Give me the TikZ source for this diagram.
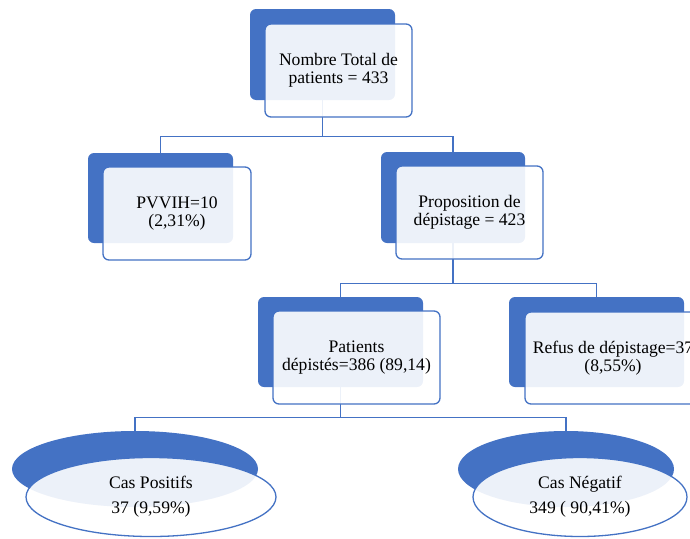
\documentclass[tikz,border=0pt]{standalone}
\usepackage{fontspec}
\setmainfont{Liberation Serif}
\usetikzlibrary{shapes.geometric}
\definecolor{bl}{HTML}{4472C4}
\begin{document}
\begin{tikzpicture}[x=1pt,y=-1pt,
  conn/.style={draw=bl, line width=1.2pt},
  backbox/.style={rectangle, fill=bl, rounded corners=6pt, inner sep=0pt},
  frontbox/.style={rectangle, draw=bl, line width=1.3pt, fill=white, fill opacity=0.9, text opacity=1,
    rounded corners=6pt, inner sep=0pt, align=center, font=\fontsize{17.6}{17.7}\selectfont},
  backell/.style={ellipse, fill=bl, inner sep=0pt},
  frontell/.style={ellipse, draw=bl, line width=1.3pt, fill=white, fill opacity=0.9, text opacity=1,
    inner sep=0pt, align=center, font=\fontsize{17.6}{25}\selectfont}]
\useasboundingbox (0,0) rectangle (690,538);
\clip (0,0) rectangle (690,538);
% back shapes
\node[backbox, minimum width=145pt, minimum height=91pt] (topB) at (322.5,54.5) {};
\node[backbox, minimum width=145pt, minimum height=90pt] (pvB) at (160.5,198) {};
\node[backbox, minimum width=144pt, minimum height=91pt] (propB) at (453,197.5) {};
\node[backbox, minimum width=165pt, minimum height=90pt] (patB) at (340.5,342) {};
\node[backbox, minimum width=175pt, minimum height=90pt] (refB) at (596.5,342) {};
\node[backell, minimum width=246pt, minimum height=76pt] (posB) at (135,469) {};
\node[backell, minimum width=216pt, minimum height=76pt] (negB) at (566,469) {};
% connectors
\draw[conn] (topB.south) -- ++(0,36) -| (pvB.north);
\draw[conn] (topB.south) -- ++(0,36) -| (propB.north);
\draw[conn] (propB.south) -- ++(0,40) -| (patB.north);
\draw[conn] (propB.south) -- ++(0,40) -| (refB.north);
\draw[conn] (patB.south) -- ++(0,30) -| (posB.north);
\draw[conn] (patB.south) -- ++(0,30) -| (negB.north);
% front shapes
\node[frontbox, minimum width=147pt, minimum height=93pt] (topF) at (338.5,70.5) {Nombre Total de\\patients = 433};
\node[frontbox, minimum width=148pt, minimum height=93pt] (pvF) at (177,213.5) {PVVIH=10\\(2,31\%)};
\node[frontbox, minimum width=147pt, minimum height=93pt] (propF) at (469.5,212.5) {Proposition de\\dépistage = 423};
\node[frontbox, minimum width=167pt, minimum height=93pt] (patF) at (356.5,357.5) {Patients\\dépistés=386 (89,14)};
\node[frontbox, minimum width=176pt, minimum height=92pt] (refF) at (613,358) {Refus de dépistage=37\\(8,55\%)};
\node[frontell, minimum width=250pt, minimum height=79pt] (posF) at (151,497) {Cas Positifs\\37 (9,59\%)};
\node[frontell, minimum width=214pt, minimum height=79pt] (negF) at (580,497) {Cas Négatif\\349 ( 90,41\%)};
\end{tikzpicture}
\end{document}
